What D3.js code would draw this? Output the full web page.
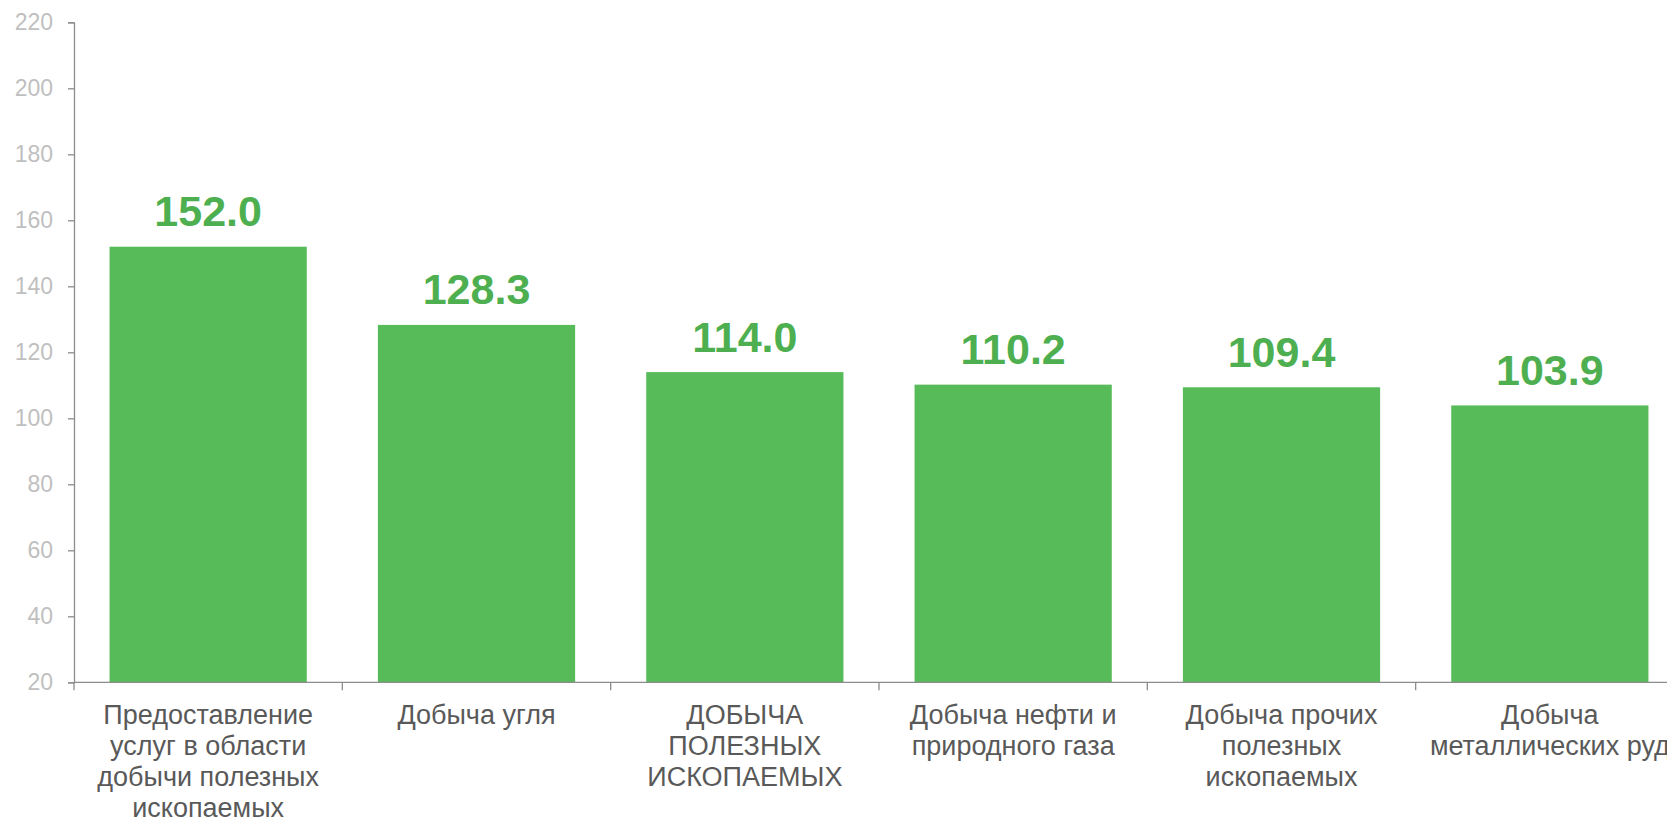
<!DOCTYPE html>
<html><head><meta charset="utf-8">
<script src="https://cdn.jsdelivr.net/npm/d3@7"></script>
<style>html,body{margin:0;padding:0;background:#fff;overflow:hidden}</style>
</head><body>
<svg id="c" width="1667" height="819"></svg>
<script>
const categories = [
  ["Предоставление","услуг в области","добычи полезных","ископаемых"],
  ["Добыча угля"],
  ["ДОБЫЧА","ПОЛЕЗНЫХ","ИСКОПАЕМЫХ"],
  ["Добыча нефти и","природного газа"],
  ["Добыча прочих","полезных","ископаемых"],
  ["Добыча","металлических руд"]
];
const values = [152.0, 128.3, 114.0, 110.2, 109.4, 103.9];
const yTicks = [20,40,60,80,100,120,140,160,180,200,220];

const svg = d3.select("#c");
const font = "'Liberation Sans', Arial, sans-serif";
const idx = d3.range(values.length);
const x = d3.scaleBand().domain(idx).range([74, 1684]).paddingInner(0.265).paddingOuter(0.1325);
const y = d3.scaleLinear().domain([20,220]).range([682.3, 22.3]);

// bars
svg.append("g").selectAll("rect").data(idx).join("rect")
  .attr("x", i => x(i)).attr("width", x.bandwidth())
  .attr("y", i => y(values[i])).attr("height", i => y(20) - y(values[i]))
  .attr("fill", "#57BB59");

// value labels
svg.append("g").selectAll("text").data(idx).join("text")
  .attr("x", i => x(i) + x.bandwidth()/2).attr("y", i => y(values[i]) - 20.5)
  .attr("text-anchor","middle").attr("font-family",font).attr("font-weight","bold")
  .attr("font-size",43).attr("fill","#4DAF50")
  .text(i => values[i].toFixed(1));

// y axis
const ya = svg.append("g").attr("transform","translate(74,0)")
  .call(d3.axisLeft(y).tickValues(yTicks).tickSize(6).tickPadding(15));
ya.selectAll("path,line").attr("stroke","#8c8c8c").attr("stroke-width",1.3);
ya.selectAll("text").attr("font-family",font).attr("font-size",23).attr("fill","#bfbfbf");

// x axis
const step = x.step();
const boundaries = d3.range(values.length + 1).map(i => x(0) - x.paddingInner()*step/2 + i*step);
const xa = svg.append("g");
xa.append("line").attr("x1",74).attr("x2",1684).attr("y1",y(20)).attr("y2",y(20))
  .attr("stroke","#8c8c8c").attr("stroke-width",1.3);
xa.selectAll("line.t").data(boundaries).join("line").attr("class","t")
  .attr("x1",d=>d).attr("x2",d=>d).attr("y1",y(20)).attr("y2",y(20)+8)
  .attr("stroke","#8c8c8c").attr("stroke-width",1.3);

// category labels
const cl = svg.append("g").selectAll("text").data(idx).join("text")
  .attr("x", i => x(i) + x.bandwidth()/2).attr("y", 723.5)
  .attr("text-anchor","middle").attr("font-family",font).attr("font-size",27).attr("fill","#595959");
cl.each(function(i){
  const t = d3.select(this);
  categories[i].forEach((line,k) => {
    t.append("tspan").attr("x", x(i) + x.bandwidth()/2).attr("dy", k===0 ? 0 : 31).text(line);
  });
});
</script>
</body></html>
